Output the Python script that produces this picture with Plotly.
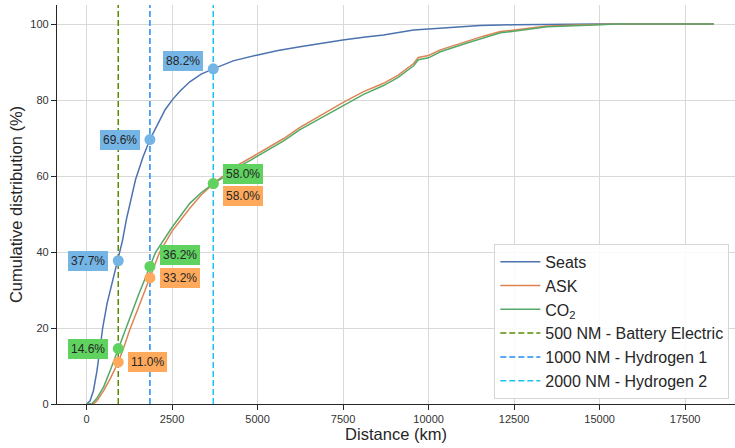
import plotly.graph_objects as go

# ---------------- data ----------------
seats_km = [0, 100, 200, 300, 400, 470, 600, 750, 926, 1050, 1163, 1300, 1430, 1650, 1852,
            2100, 2300, 2529, 2750, 3018, 3350, 3704, 4287, 4972, 5600, 6241, 6900, 7492,
            8100, 8682, 9562, 10300, 10929, 11515, 12500, 13860, 15000, 16500, 18342]
seats_pct = [0, 0.8, 3.5, 8.5, 15, 20, 26.5, 32, 37.7, 43, 48.5, 54, 59, 65, 69.6,
             74, 77.5, 80.3, 82.5, 84.8, 86.8, 88.2, 90.3, 91.8, 93, 94, 95, 95.8,
             96.5, 97.1, 98.4, 98.8, 99.1, 99.6, 99.8, 99.95, 100, 100, 100]

ask_km = [0, 200, 300, 381, 500, 700, 926, 1100, 1260, 1500, 1852, 2139, 2500, 3018, 3350,
          3704, 3990, 4287, 4800, 5265, 5750, 6241, 6900, 7491, 8100, 8682, 9100, 9562,
          9700, 10000, 10343, 11125, 11600, 12101, 12491, 13000, 13470, 14641, 15500, 18342]
ask_pct = [0, 0, 0.8, 1.9, 3.5, 6.8, 11.0, 15.2, 19.5, 25, 33.2, 40, 45.5, 51.5, 55,
           58, 60, 62.2, 64.8, 67.2, 69.8, 72.8, 76.2, 79.3, 82.2, 84.4, 86.5, 89.6,
           91.2, 91.7, 93.2, 95.4, 96.8, 98.0, 98.4, 99.0, 99.5, 99.8, 100, 100]

co2_km = [0, 150, 300, 500, 700, 926, 1143, 1500, 1852, 2022, 2500, 3018, 3350, 3704, 3990,
          4287, 4800, 5265, 5750, 6241, 6900, 7491, 8100, 8682, 9100, 9562, 9700, 10000,
          10343, 11125, 11600, 12101, 12491, 13000, 13470, 14641, 15500, 18342]
co2_pct = [0, 0, 1.5, 4.5, 9, 14.6, 20, 28.3, 36.2, 40, 46.5, 52.8, 55.6, 58, 59.6,
           61.7, 64.2, 66.6, 69.2, 72.2, 75.5, 78.6, 81.5, 83.8, 85.9, 89.0, 90.6, 91.1,
           92.7, 95.0, 96.4, 97.7, 98.1, 98.8, 99.3, 99.7, 100, 100]

range_nm = [500, 1000, 2000]
range_names = ["500 NM - Battery Electric", "1000 NM - Hydrogen 1", "2000 NM - Hydrogen 2"]
NM_TO_KM = 1.852

seats_at = [37.7, 69.6, 88.2]
ask_at = [11.0, 33.2, 58.0]
co2_at = [14.6, 36.2, 58.0]

x_ticks = [0, 2500, 5000, 7500, 10000, 12500, 15000, 17500]
y_ticks = [0, 20, 40, 60, 80, 100]

# ---------------- styles ----------------
FONT = "Liberation Sans, Arial, sans-serif"
c_seats, c_ask, c_co2 = "#4c72b0", "#dd8452", "#55a868"
vcolors = ["#5a8a00", "#1f8bf2", "#1fc0f5"]
m_seats, m_ask, m_co2 = "#74b5e6", "#ffa95c", "#5fd260"
YMAX = 105

range_km = [n * NM_TO_KM for n in range_nm]

fig = go.Figure()
fig.add_trace(go.Scatter(x=seats_km, y=seats_pct, mode="lines", name="Seats",
                         line=dict(color=c_seats, width=1.5)))
fig.add_trace(go.Scatter(x=ask_km, y=ask_pct, mode="lines", name="ASK",
                         line=dict(color=c_ask, width=1.5)))
fig.add_trace(go.Scatter(x=co2_km, y=co2_pct, mode="lines", name="CO<sub>2</sub>",
                         line=dict(color=c_co2, width=1.5)))
for km, nm_name, col in zip(range_km, range_names, vcolors):
    fig.add_trace(go.Scatter(x=[km, km], y=[0, YMAX], mode="lines", name=nm_name,
                             line=dict(color=col, width=1.5, dash="6px,3px")))

for vals, col in [(seats_at, m_seats), (ask_at, m_ask), (co2_at, m_co2)]:
    fig.add_trace(go.Scatter(x=range_km, y=vals, mode="markers", showlegend=False,
                             marker=dict(color=col, size=11, line=dict(width=0))))

specs = [
    (seats_at, m_seats, ["l", "l", "l"], [0, 0, 8]),
    (ask_at, m_ask, ["r", "r", "r"], [0, 0, -12]),
    (co2_at, m_co2, ["l", "r", "r"], [0, 11, 10]),
]
for vals, col, sides, ysh in specs:
    for km, v, s, dy in zip(range_km, vals, sides, ysh):
        fig.add_annotation(
            x=km, y=v, xref="x", yref="y", text=f"{v:.1f}%", showarrow=False,
            xanchor="right" if s == "l" else "left",
            xshift=-10 if s == "l" else 10, yshift=dy,
            bgcolor=col, bordercolor=col, borderwidth=1, borderpad=2,
            font=dict(family=FONT, size=12, color="#262626"))

fig.update_layout(
    width=735, height=448,
    margin=dict(l=57, r=0, t=5, b=44, autoexpand=False),
    paper_bgcolor="white", plot_bgcolor="white",
    font=dict(family=FONT, color="#262626"),
    showlegend=True,
    legend=dict(x=0.645, y=0.013, xanchor="left", yanchor="bottom",
                bgcolor="rgba(255,255,255,0.85)", bordercolor="#d6d6d6", borderwidth=1,
                font=dict(family=FONT, size=16, color="#262626"),
                itemwidth=40, tracegroupgap=0),
)
fig.update_xaxes(
    range=[-865, 18960], tickvals=x_ticks, tickformat="d", automargin=False,
    showgrid=True, gridcolor="#d9d9d9", gridwidth=1, zeroline=False,
    showline=True, linecolor="#262626", linewidth=1.2,
    ticks="outside", ticklen=5, tickcolor="#262626",
    tickfont=dict(family=FONT, size=11, color="#333333"),
    title=dict(text="Distance (km)", font=dict(family=FONT, size=16.5, color="#262626"), standoff=2),
)
fig.update_yaxes(
    range=[0, YMAX], tickvals=y_ticks, automargin=False,
    showgrid=True, gridcolor="#d9d9d9", gridwidth=1, zeroline=False,
    showline=True, linecolor="#262626", linewidth=1.2,
    ticks="outside", ticklen=5, tickcolor="#262626",
    tickfont=dict(family=FONT, size=11, color="#333333"),
    title=dict(text="Cumulative distribution (%)", font=dict(family=FONT, size=16.5, color="#262626"), standoff=3),
)

fig.write_html("out.html", config={"displayModeBar": False},
               post_script="document.body.style.margin='0';")
